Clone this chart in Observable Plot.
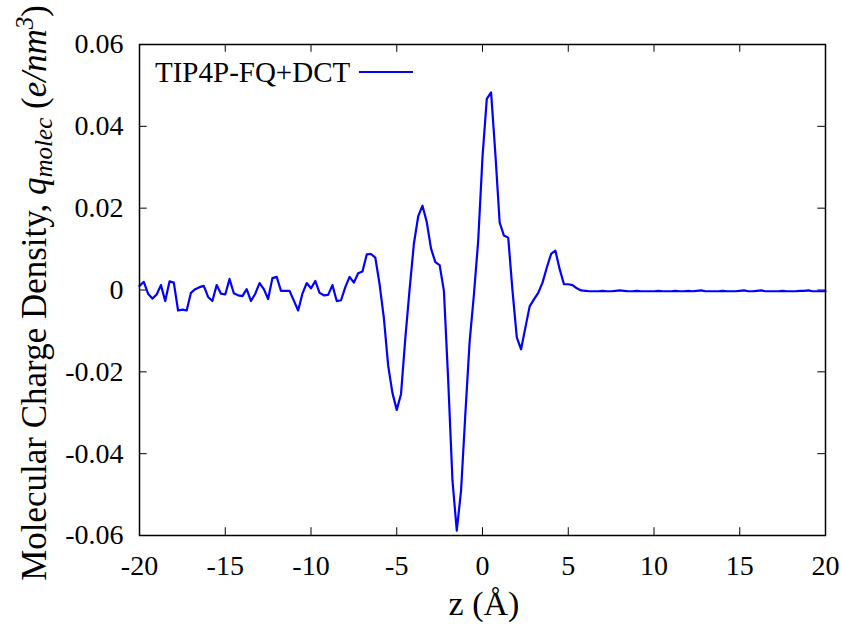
<!DOCTYPE html>
<html>
<head>
<meta charset="utf-8">
<script src="https://cdn.jsdelivr.net/npm/d3@7"></script>
<script src="https://cdn.jsdelivr.net/npm/@observablehq/plot@0.6"></script>
<style>
  body { margin: 0; background: #fff; }
  #chart svg { display: block; }
  #chart svg text { font-family: "Liberation Serif", Tinos, "Times New Roman", Times, "DejaVu Serif", serif !important; }
</style>
</head>
<body>
<div id="chart"></div>
<script>
// z positions (Å)
const zValues = [
  -20, -19.75, -19.5, -19.25, -19, -18.75, -18.5, -18.25, -18, -17.75,
  -17.5, -17.25, -17, -16.75, -16.5, -16.25, -16, -15.75, -15.5, -15.25,
  -15, -14.75, -14.5, -14.25, -14, -13.75, -13.5, -13.25, -13, -12.75,
  -12.5, -12.25, -12, -11.75, -11.5, -11.25, -11, -10.75, -10.5, -10.25,
  -10, -9.75, -9.5, -9.25, -9, -8.75, -8.5, -8.25, -8, -7.75,
  -7.5, -7.25, -7, -6.75, -6.5, -6.25, -6, -5.75, -5.5, -5.25,
  -5, -4.75, -4.5, -4.25, -4, -3.75, -3.5, -3.25, -3, -2.75,
  -2.5, -2.25, -2, -1.75, -1.5, -1.25, -1, -0.75, -0.5, -0.25,
  0, 0.25, 0.5, 0.75, 1, 1.25, 1.5, 1.75, 2, 2.25,
  2.5, 2.75, 3, 3.25, 3.5, 3.75, 4, 4.25, 4.5, 4.75,
  5, 5.25, 5.5, 5.75, 6, 6.25, 6.5, 6.75, 7, 7.25,
  7.5, 7.75, 8, 8.25, 8.5, 8.75, 9, 9.25, 9.5, 9.75,
  10, 10.25, 10.5, 10.75, 11, 11.25, 11.5, 11.75, 12, 12.25,
  12.5, 12.75, 13, 13.25, 13.5, 13.75, 14, 14.25, 14.5, 14.75,
  15, 15.25, 15.5, 15.75, 16, 16.25, 16.5, 16.75, 17, 17.25,
  17.5, 17.75, 18, 18.25, 18.5, 18.75, 19, 19.25, 19.5, 19.75,
  20
];

// Molecular charge density q_molec (e/nm^3), TIP4P-FQ+DCT
const qValues = [
  0.0010, 0.0020, -0.0009, -0.0021, -0.0011, 0.0012, -0.0027, 0.0021, 0.0018, -0.0050,
  -0.0048, -0.0050, -0.0007, 0.0002, 0.0007, 0.0010, -0.0017, -0.0027, 0.0012, -0.0009,
  -0.0011, 0.0027, -0.0008, -0.0013, -0.0015, 0.0002, -0.0027, -0.0009, 0.0017, 0.0002,
  -0.0022, 0.0029, 0.0032, -0.0002, -0.0002, -0.0002, -0.0026, -0.0050, -0.0009, 0.0017,
  0.0004, 0.0022, -0.0007, -0.0013, -0.0012, 0.0012, -0.0027, -0.0025, 0.0007, 0.0032,
  0.0018, 0.0041, 0.0045, 0.0087, 0.0088, 0.0079, 0.0014, -0.0069, -0.0185, -0.0252,
  -0.0293, -0.0254, -0.0118, 0.0002, 0.0113, 0.0180, 0.0206, 0.0166, 0.0101, 0.0068,
  0.0061, -0.0002, -0.0221, -0.0466, -0.0588, -0.0490, -0.0303, -0.0126, -0.0011, 0.0121,
  0.0325, 0.0467, 0.0483, 0.0333, 0.0165, 0.0133, 0.0128, -0.0002, -0.0116, -0.0145,
  -0.0092, -0.0040, -0.0023, -0.0007, 0.0018, 0.0055, 0.0088, 0.0096, 0.0051, 0.0014,
  0.0014, 0.0012, 0.0004, -0.0001, -0.0002, -0.0003, -0.0003, -0.0003, -0.0002, -0.0003,
  -0.0003, -0.0002, -0.0001, -0.0002, -0.0003, -0.0003, -0.0002, -0.0003, -0.0003, -0.0003,
  -0.0003, -0.0002, -0.0003, -0.0003, -0.0003, -0.0002, -0.0003, -0.0003, -0.0002, -0.0003,
  -0.0002, -0.0001, -0.0003, -0.0003, -0.0003, -0.0003, -0.0002, -0.0003, -0.0003, -0.0003,
  -0.0002, -0.0001, -0.0003, -0.0003, -0.0002, -0.0001, -0.0003, -0.0003, -0.0003, -0.0003,
  -0.0002, -0.0003, -0.0003, -0.0003, -0.0002, -0.0002, -0.0001, -0.0003, -0.0003, -0.0003,
  -0.0003
];

const xTicks = [-20, -15, -10, -5, 0, 5, 10, 15, 20];
const xTickLabels = ["-20", "-15", "-10", "-5", "0", "5", "10", "15", "20"];
const yTicks = [-0.06, -0.04, -0.02, 0, 0.02, 0.04, 0.06];
const yTickLabels = ["-0.06", "-0.04", "-0.02", "0", "0.02", "0.04", "0.06"];
const seriesName = "TIP4P-FQ+DCT";

const data = zValues.map((z, i) => ({ z, q: qValues[i] }));

const FONT = "Liberation Serif, Tinos, Times New Roman, Times, DejaVu Serif, serif";
const LINE_COLOR = "#0000ff";
const xTickLen = 0.45;   // in z units (~8px)
const yTickLen = 0.0019; // in q units (~8px)

const plot = Plot.plot({
  width: 842,
  height: 626,
  marginLeft: 139,
  marginRight: 17,
  marginTop: 44,
  marginBottom: 91,
  style: { fontFamily: FONT, fontSize: "28px", background: "#fff", color: "#000" },
  x: { domain: [-20, 20] },
  y: { domain: [-0.06, 0.06] },
  marks: [
    // inward ticks on all four sides
    Plot.ruleX(xTicks, { x: d => d, y1: -0.06, y2: -0.06 + yTickLen, stroke: "#000", strokeWidth: 1 }),
    Plot.ruleX(xTicks, { x: d => d, y1: 0.06, y2: 0.06 - yTickLen, stroke: "#000", strokeWidth: 1 }),
    Plot.ruleY(yTicks, { y: d => d, x1: -20, x2: -20 + xTickLen, stroke: "#000", strokeWidth: 1 }),
    Plot.ruleY(yTicks, { y: d => d, x1: 20, x2: 20 - xTickLen, stroke: "#000", strokeWidth: 1 }),
    Plot.line(data, { x: "z", y: "q", stroke: LINE_COLOR, strokeWidth: 2.2 }),
    Plot.frame({ stroke: "#000", strokeWidth: 1.5 }),
    Plot.axisX({
      ticks: xTicks, tickSize: 0, tickPadding: 20, fontSize: 28,
      tickFormat: d => xTickLabels[xTicks.indexOf(d)], label: null
    }),
    Plot.axisY({
      ticks: yTicks, tickSize: 0, tickPadding: 16, fontSize: 28,
      tickFormat: d => yTickLabels[yTicks.findIndex(t => Math.abs(t - d) < 1e-9)], label: null
    })
  ]
});

document.getElementById("chart").appendChild(plot);

const svg = d3.select(plot);

// X axis title
svg.append("text")
  .attr("x", 484).attr("y", 615)
  .attr("text-anchor", "middle")
  .attr("font-size", 34).attr("fill", "#000")
  .text("z (Å)");

// Y axis title with subscript / superscript
const yt = svg.append("text")
  .attr("transform", "translate(46,293) rotate(-90)")
  .attr("text-anchor", "middle")
  .attr("font-size", 35).attr("fill", "#000");
yt.append("tspan").text("Molecular Charge Density, ");
yt.append("tspan").attr("font-style", "italic").text("q");
yt.append("tspan").attr("font-style", "italic").attr("font-size", 25).attr("dy", 6).text("molec");
yt.append("tspan").attr("dy", -6).text(" (");
yt.append("tspan").attr("font-style", "italic").text("e/nm");
yt.append("tspan").attr("font-style", "italic").attr("font-size", 25).attr("dy", -13).text("3");
yt.append("tspan").attr("dy", 13).text(")");

// Legend
svg.append("text")
  .attr("x", 155).attr("y", 82)
  .attr("text-anchor", "start")
  .attr("font-size", 29).attr("fill", "#000")
  .text(seriesName);
svg.append("line")
  .attr("x1", 359).attr("x2", 413).attr("y1", 72).attr("y2", 72)
  .attr("stroke", LINE_COLOR).attr("stroke-width", 2.2);
</script>
</body>
</html>
